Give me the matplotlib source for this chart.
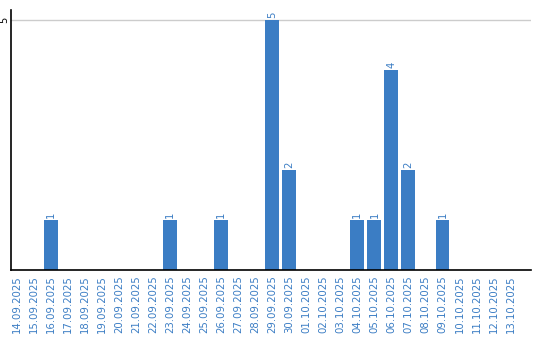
import matplotlib.pyplot as plt

dates = ["14.09.2025", "15.09.2025", "16.09.2025", "17.09.2025", "18.09.2025",
         "19.09.2025", "20.09.2025", "21.09.2025", "22.09.2025", "23.09.2025",
         "24.09.2025", "25.09.2025", "26.09.2025", "27.09.2025", "28.09.2025",
         "29.09.2025", "30.09.2025", "01.10.2025", "02.10.2025", "03.10.2025",
         "04.10.2025", "05.10.2025", "06.10.2025", "07.10.2025", "08.10.2025",
         "09.10.2025", "10.10.2025", "11.10.2025", "12.10.2025", "13.10.2025"]
counts = [0, 0, 1, 0, 0, 0, 0, 0, 0, 1,
          0, 0, 1, 0, 0, 5, 2, 0, 0, 0,
          1, 1, 4, 2, 0, 1, 0, 0, 0, 0]

blue = "#3b7dc4"

fig = plt.figure(figsize=(5.4, 3.4), dpi=100)
ax = fig.add_axes([11/540, 70/340, 520/540, 260/340])

x = list(range(len(dates)))
ax.bar(x, counts, width=0.82, color=blue, zorder=2)

# value labels over the bars
for i, v in enumerate(counts):
    if v > 0:
        ax.text(i, v + 0.04, str(v), rotation=90, ha="center", va="bottom",
                color=blue, fontsize=7.3)

ax.set_xlim(-0.35, 30.2)
ax.set_ylim(0, 5.2)
ax.set_xticks(x)
ax.set_xticklabels(dates, rotation=90, color=blue, fontsize=7.3)
ax.set_yticks([5])
ax.set_yticklabels(["5"], rotation=90, va="center", fontsize=7)
ax.tick_params(axis="x", length=0, pad=4)
ax.tick_params(axis="y", length=0, pad=1)
ax.axhline(5, color="#cccccc", lw=1, zorder=1)

for s in ["top", "right"]:
    ax.spines[s].set_visible(False)
ax.spines["left"].set_linewidth(1.2)
ax.spines["bottom"].set_linewidth(1.2)

plt.savefig("out.png")
